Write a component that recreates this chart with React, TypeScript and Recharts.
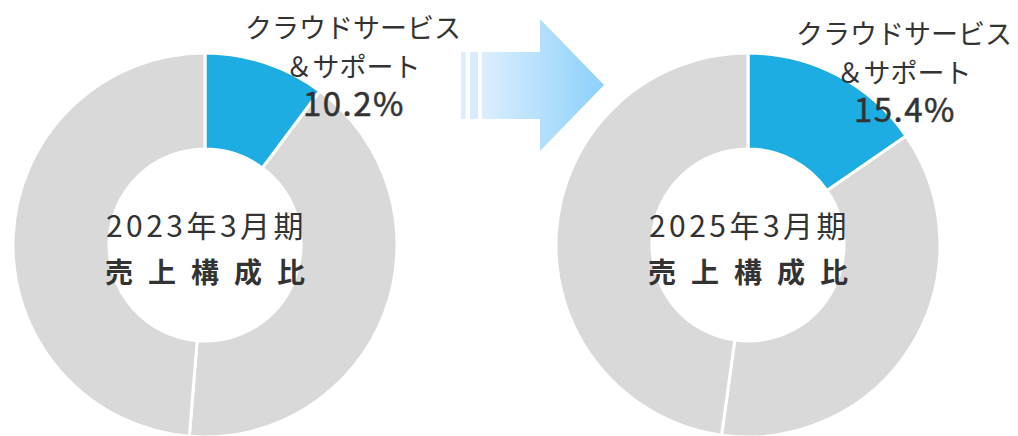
import { PieChart, Pie, Cell } from 'recharts';

// 売上構成比（クラウドサービス＆サポート比率の推移）
const segments = ['クラウドサービス＆サポート', 'その他事業A', 'その他事業B'];
const share2023 = [10.2, 41.1, 48.7];
const share2025 = [15.4, 36.8, 47.8];
const periods = ['2023年3月期', '2025年3月期'];
const centerTitle = '売上構成比';
const highlightLines = ['クラウドサービス', '＆サポート'];

const COLORS = ['#1EADE2', '#D9D9D9', '#D9D9D9'];
const TEXT = '#333333';
const FONT = '"Noto Sans CJK JP", "Noto Sans", sans-serif';

const W = 1018;
const H = 436;
const CY = 245;
const PIES = [
  { cx: 205, data: share2023, labelX: 353, labelTop: 38 },
  { cx: 748, data: share2025, labelX: 904, labelTop: 44 },
];

const toRows = (values: number[]) => values.map((v, i) => ({ name: segments[i], value: v }));

// 矢印・中央見出し・ハイライト値はドーナツの上に重ねる
function Overlay() {
  const spacing = 15;
  return (
    <svg
      width={W}
      height={H}
      style={{ position: 'absolute', left: 0, top: 0, pointerEvents: 'none' }}
    >
      <g fontFamily={FONT} fill={TEXT}>
        <defs>
          <linearGradient id="arrowFill" x1="0" y1="0" x2="1" y2="0">
            <stop offset="0%" stopColor="#DCEEFD" />
            <stop offset="100%" stopColor="#8CD1FB" />
          </linearGradient>
        </defs>
        <rect x={461} y={52} width={4.5} height={67} fill="#DCEEFD" />
        <rect x={470} y={52} width={8} height={67} fill="#D8ECFD" />
        <path
          d="M482,52 L540,52 L540,19 L604,85 L540,151 L540,119 L482,119 Z"
          fill="url(#arrowFill)"
        />
        {PIES.map((p, i) => (
          <g key={i}>
            <text x={p.cx + 1.5} y={237} textAnchor="middle" fontSize={30} letterSpacing={3.5}>
              {periods[i]}
            </text>
            <text
              x={p.cx + spacing / 2}
              y={283}
              textAnchor="middle"
              fontSize={28}
              fontWeight={700}
              letterSpacing={spacing}
            >
              {centerTitle}
            </text>
            {/* ハイライト区分のラベル（3行） */}
            <text x={p.labelX} y={p.labelTop} textAnchor="middle" fontSize={27}>
              <tspan x={p.labelX}>{highlightLines[0]}</tspan>
              <tspan x={p.labelX} dy={39}>{highlightLines[1]}</tspan>
              <tspan
                x={p.labelX + 1}
                dy={39}
                fontSize={33}
                letterSpacing={1.5}
                stroke={TEXT}
                strokeWidth={0.5}
              >
                {`${p.data[0].toFixed(1)}%`}
              </tspan>
            </text>
          </g>
        ))}
      </g>
    </svg>
  );
}

export default function App() {
  return (
    <div style={{ position: 'absolute', left: 0, top: 0, width: W, height: H, background: '#fff' }}>
      <PieChart width={W} height={H} margin={{ top: 0, right: 0, bottom: 0, left: 0 }}>
        {PIES.map((p, i) => (
          <Pie
            key={i}
            data={toRows(p.data)}
            dataKey="value"
            nameKey="name"
            cx={p.cx}
            cy={CY}
            innerRadius={96}
            outerRadius={192}
            startAngle={90}
            endAngle={-270}
            stroke="#FFFFFF"
            strokeWidth={3}
            isAnimationActive={false}
          >
            {p.data.map((_, j) => (
              <Cell key={j} fill={COLORS[j]} />
            ))}
          </Pie>
        ))}
      </PieChart>
      <Overlay />
    </div>
  );
}
